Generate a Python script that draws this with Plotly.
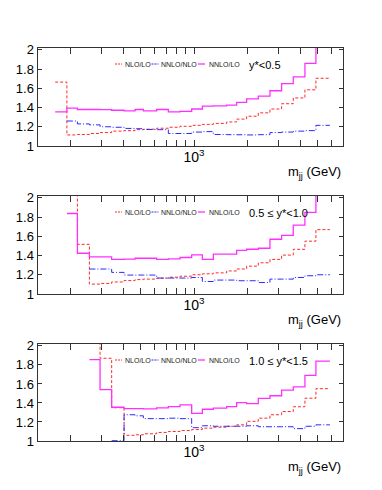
import plotly.graph_objects as go

# common mjj bin edges (GeV)
edges = [163, 190, 218, 255, 293, 341, 401, 463, 516, 614, 715, 833, 970,
         1115, 1287, 1532, 1746, 1989, 2316, 2697, 3140, 3657, 4259, 4916, 5902]

# y* < 0.5
p1_nlo = [1.665, 1.115, 1.12, 1.13, 1.14, 1.155, 1.16, 1.17, 1.175, 1.185, 1.195, 1.205,
          1.215, 1.225, 1.235, 1.25, 1.28, 1.31, 1.345, 1.385, 1.44, 1.5, 1.585, 1.705]
p1_nnlo_nlo = [None, 1.26, 1.23, 1.22, 1.2, 1.195, 1.183, 1.18, 1.172, 1.17, 1.13, 1.13,
               1.145, 1.15, 1.12, 1.118, 1.117, 1.115, 1.118, 1.14, 1.145, 1.155, 1.16, 1.215]
p1_nnlo = [1.355, 1.395, 1.38, 1.38, 1.378, 1.372, 1.365, 1.38, 1.365, 1.38, 1.355, 1.36,
           1.385, 1.415, 1.418, 1.425, 1.455, 1.49, 1.52, 1.575, 1.65, 1.72, 1.86, 2.07]

# 0.5 <= y* < 1.0
p2_nlo = [None, 2.3, 1.517, 1.103, 1.11, 1.125, 1.14, 1.15, 1.155, 1.165, 1.175, 1.185,
          1.2, 1.21, 1.22, 1.24, 1.26, 1.29, 1.325, 1.36, 1.405, 1.465, 1.55, 1.67]
p2_nnlo_nlo = [None, None, None, 1.26, 1.26, 1.225, 1.197, 1.197, 1.197, 1.166, 1.166, 1.166,
               1.172, 1.13, 1.145, 1.145, 1.138, 1.138, 1.12, 1.155, 1.155, 1.172, 1.19, 1.2]
p2_nnlo = [None, 1.838, 1.424, 1.386, 1.386, 1.36, 1.362, 1.372, 1.372, 1.36, 1.366, 1.38,
           1.407, 1.36, 1.414, 1.414, 1.455, 1.466, 1.476, 1.57, 1.61, 1.717, 1.85, 2.06]

# 1.0 <= y* < 1.5
p3_nlo = [None, None, None, 2.3, 1.87, 1.35, 1.06, 1.065, 1.076, 1.09, 1.10, 1.11,
          1.12, 1.135, 1.145, 1.155, 1.17, 1.207, 1.24, 1.276, 1.31, 1.36, 1.45, 1.55]
p3_nnlo_nlo = [None, None, None, None, None, 1.003, 1.276, 1.265, 1.235, 1.235, 1.24, 1.235,
               1.14, 1.16, 1.155, 1.155, 1.155, 1.16, 1.15, 1.15, 1.15, 1.13, 1.155, 1.17]
p3_nnlo = [None, None, None, 1.855, 1.541, 1.355, 1.341, 1.341, 1.338, 1.348, 1.362, 1.38,
           1.29, 1.334, 1.345, 1.362, 1.403, 1.393, 1.448, 1.476, 1.534, 1.57, 1.69, 1.84]

panels = [
    ("y*<0.5", p1_nlo, p1_nnlo_nlo, p1_nnlo),
    ("0.5 \u2264 y*<1.0", p2_nlo, p2_nnlo_nlo, p2_nnlo),
    ("1.0 \u2264 y*<1.5", p3_nlo, p3_nnlo_nlo, p3_nnlo),
]
legend_names = ["NLO/LO", "NNLO/NLO", "NNLO/LO"]

# the page body adds an 8px margin, so the figure sits at (8, 8)
OX, OY = 8, 8
W, H = 366, 474
FONT = "Liberation Sans, Arial, sans-serif"
styles = [
    dict(color="#ff2a2a", width=1, dash="3px,2px"),
    dict(color="#2a2aff", width=1, dash="6px,2px,1px,2px"),
    dict(color="#ff30ff", width=1.3, dash="solid"),
]


def px(x):
    return (x - OX) / W


def py(y):
    return 1 - (y - OY) / H


# frame positions in page pixels (top, bottom) of each pad
pads = [(48, 146), (196, 294), (344, 441)]
x0, x1 = 37.5, 343.3

xticks = [200, 300, 400, 500, 600, 700, 800, 900, 1000, 2000, 3000, 4000, 5000, 6000]
xtext = ["10<sup>3</sup>" if v == 1000 else "" for v in xticks]

fig = go.Figure()
for i, (label, nlo, rat, nnlo) in enumerate(panels):
    n = "" if i == 0 else str(i + 1)
    for vals, st in zip((nlo, rat, nnlo), styles):
        fig.add_trace(go.Scatter(
            x=edges, y=vals + [vals[-1]], mode="lines", line_shape="hv",
            line=st, xaxis="x" + n, yaxis="y" + n, showlegend=False,
            hoverinfo="skip"))
    top, bot = pads[i]
    fig.layout["xaxis" + n] = dict(
        type="log", range=[2.112, 3.847], domain=[px(x0), px(x1)],
        anchor="y" + n, tickvals=xticks, ticktext=xtext, ticks="inside",
        ticklen=6, tickcolor="#333", linecolor="#333", linewidth=1,
        mirror="ticks", showline=True, showgrid=False, zeroline=False, ticklabelstandoff=-2,
        tickfont=dict(size=14, family=FONT, color="black"), automargin=False)
    fig.layout["yaxis" + n] = dict(
        range=[1, 2.02], domain=[py(bot), py(top)], anchor="x" + n,
        tickvals=[1, 1.2, 1.4, 1.6, 1.8, 2], ticktext=["1", "1.2", "1.4", "1.6", "1.8", "2"],
        ticks="inside", ticklen=4, tickcolor="#333", linecolor="#333", linewidth=1,
        mirror="ticks", showline=True, showgrid=False, zeroline=False,
        tickfont=dict(size=13, family=FONT, color="black"), automargin=False)

    # x-axis title
    fig.add_annotation(text="m<sub>jj</sub> (GeV)", xref="paper", yref="paper",
                       x=px(x1), y=py(bot + 26), xanchor="right", yanchor="middle",
                       showarrow=False, font=dict(size=13, family=FONT, color="black"))
    # rapidity label
    fig.add_annotation(text=label, xref="paper", yref="paper",
                       x=px(247), y=py(top + 17), xanchor="left", yanchor="middle",
                       showarrow=False, font=dict(size=11, family=FONT, color="black"))
    # legend
    ly = top + 16
    for (sx, tx), name, st in zip([(115, 122.5), (151.5, 159), (198, 206.5)], legend_names, styles):
        fig.add_shape(type="line", xref="paper", yref="paper",
                      x0=px(sx), x1=px(sx + 7), y0=py(ly), y1=py(ly),
                      line=dict(color=st["color"], width=st["width"],
                                dash="solid" if st["dash"] == "solid" else "2px,1px"))
        fig.add_annotation(text=name, xref="paper", yref="paper",
                           x=px(tx), y=py(ly), xanchor="left", yanchor="middle",
                           showarrow=False, font=dict(size=7, family=FONT, color="#222"))

fig.update_layout(width=W, height=H, margin=dict(l=0, r=0, t=0, b=0),
                  paper_bgcolor="white", plot_bgcolor="white", showlegend=False)
fig.write_html("out.html")
